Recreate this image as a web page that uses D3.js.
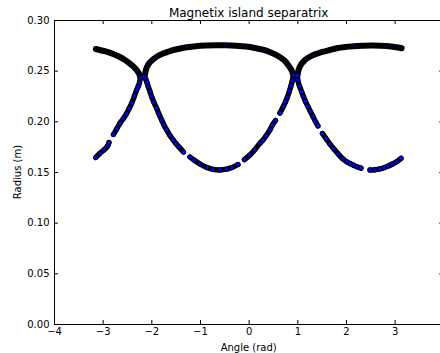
<!DOCTYPE html>
<html>
<head>
<meta charset="utf-8">
<script src="https://cdn.jsdelivr.net/npm/d3@7"></script>
<style>
  html, body { margin: 0; padding: 0; background: #fff; }
  svg { display: block; }
  text { font-family: "DejaVu Sans", sans-serif; fill: #000; }
</style>
</head>
<body>
<svg id="chart" width="440" height="353"></svg>
<script>
// Separatrix traces as [angle (rad), radius (m)] pairs, one array per branch.
// Upper branches: densely filled traces.
const outerLeftUpper = [[-3.14,0.2714],[-2.974,0.2694],[-2.815,0.2671],[-2.676,0.2642],[-2.542,0.2605],
  [-2.439,0.2569],[-2.351,0.2533],[-2.285,0.2497],[-2.244,0.2462],[-2.224,0.2428]];
const islandUpper = [[-2.141,0.2433],[-2.121,0.2487],[-2.090,0.2536],[-2.039,0.2576],[-1.967,0.2610],
  [-1.885,0.2640],[-1.761,0.2669],[-1.617,0.2694],[-1.453,0.2714],[-1.268,0.2731],[-1.083,0.2742],
  [-0.878,0.2748],[-0.672,0.2751],[-0.467,0.2751],[-0.261,0.2747],[-0.055,0.2739],[0.129,0.2724],
  [0.314,0.2704],[0.479,0.2674],[0.623,0.2640],[0.736,0.2600],[0.818,0.2551],[0.880,0.2507],[0.917,0.2457]];
const outerRightUpper = [[1.003,0.2452],[1.023,0.2502],[1.065,0.2551],[1.157,0.2605],[1.239,0.2633],
  [1.328,0.2655],[1.424,0.2671],[1.533,0.2687],[1.671,0.2704],[1.808,0.2721],[1.979,0.2734],
  [2.164,0.2742],[2.355,0.2746],[2.534,0.2748],[2.698,0.2747],[2.836,0.2744],[2.965,0.2736],
  [3.068,0.2729],[3.144,0.2721]];

// Lower branches: sparser traces, split where the orbit leaves gaps.
const outerLeftLowerA = [[-2.224,0.2428],[-2.244,0.2378],[-2.275,0.2339],[-2.302,0.2309],[-2.347,0.2250],
  [-2.404,0.2178],[-2.454,0.2129],[-2.507,0.2079],[-2.573,0.2028],[-2.645,0.1981],[-2.713,0.1924],[-2.778,0.1870]];
const outerLeftLowerB = [[-2.870,0.1791],[-2.898,0.1757],[-2.974,0.1717],[-3.056,0.1685],[-3.142,0.1643]];
const islandLowerRightA = [[0.917,0.2457],[0.896,0.2398],[0.869,0.2349],[0.838,0.2299],[0.797,0.2240],
  [0.756,0.2191],[0.711,0.2144],[0.643,0.2082]];
const islandLowerRightB = [[0.551,0.2008],[0.489,0.1964],[0.438,0.1915],[0.356,0.1855],[0.294,0.1816],
  [0.232,0.1783],[0.129,0.1722],[0.027,0.1668],[-0.086,0.1623]];
const islandBottom = [[-0.220,0.1574],[-0.343,0.1544],[-0.452,0.1528],[-0.590,0.1520],[-0.734,0.1525],
  [-0.857,0.1544],[-1.001,0.1579],[-1.124,0.1618],[-1.206,0.1648]];
const islandLowerLeft = [[-1.340,0.1697],[-1.432,0.1747],[-1.494,0.1781],[-1.550,0.1816],[-1.617,0.1860],
  [-1.685,0.1915],[-1.741,0.1964],[-1.788,0.2013],[-1.843,0.2072],[-1.891,0.2129],[-1.946,0.2186],
  [-1.993,0.2243],[-2.028,0.2294],[-2.063,0.2342],[-2.090,0.2383],[-2.121,0.2423],[-2.141,0.2433]];
const outerRightLowerA = [[1.003,0.2452],[1.009,0.2408],[1.044,0.2349],[1.089,0.2292],[1.126,0.2245],
  [1.167,0.2196],[1.219,0.2146],[1.270,0.2097],[1.321,0.2048],[1.373,0.1998],[1.424,0.1954]];
const outerRightLowerB = [[1.517,0.1880],[1.589,0.1831],[1.671,0.1776],[1.753,0.1727],[1.841,0.1678],
  [1.928,0.1633],[2.014,0.1602],[2.082,0.1584],[2.154,0.1567],[2.226,0.1551],[2.308,0.1538]];
const outerRightLowerC = [[2.493,0.1520],[2.596,0.1522],[2.698,0.1530],[2.781,0.1542],[2.869,0.1559],
  [2.955,0.1579],[3.042,0.1602],[3.130,0.1635]];

const xTicks = [-4, -3, -2, -1, 0, 1, 2, 3];
const yTicks = [0, 0.05, 0.10, 0.15, 0.20, 0.25, 0.30];
const titleText = "Magnetix island separatrix";
const xLabel = "Angle (rad)";
const yLabel = "Radius (m)";

const denseBranches = [outerLeftUpper, islandUpper, outerRightUpper];
const sparseBranches = [outerLeftLowerA, outerLeftLowerB, islandLowerRightA, islandLowerRightB,
  islandBottom, islandLowerLeft, outerRightLowerA, outerRightLowerB, outerRightLowerC];

const svg = d3.select("#chart");
const padL = 54, padR = 443.3, padT = 20, padB = 324;

const x = d3.scaleLinear().domain([-4, 4]).range([padL, padR]);
const y = d3.scaleLinear().domain([0, 0.30]).range([padB, padT]);

const line = d3.line()
  .x(d => x(d[0]))
  .y(d => y(d[1]))
  .curve(d3.curveCatmullRom.alpha(0.5));

const plot = svg.append("g");

// Filled trace bands
plot.selectAll("path.dense-band")
  .data(denseBranches)
  .join("path")
  .attr("class", "dense-band")
  .attr("d", line)
  .attr("fill", "none")
  .attr("stroke", "#000")
  .attr("stroke-width", 6)
  .attr("stroke-linecap", "round")
  .attr("stroke-linejoin", "round");

plot.selectAll("path.sparse-band")
  .data(sparseBranches)
  .join("path")
  .attr("class", "sparse-band")
  .attr("d", line)
  .attr("fill", "none")
  .attr("stroke", "#000")
  .attr("stroke-width", 5.4)
  .attr("stroke-linecap", "round")
  .attr("stroke-linejoin", "round");

// Markers on the sparse branches
plot.selectAll("g.sparse")
  .data(sparseBranches)
  .join("g")
  .attr("class", "sparse")
  .selectAll("circle")
  .data(d => d)
  .join("circle")
  .attr("cx", d => x(d[0]))
  .attr("cy", d => y(d[1]))
  .attr("r", 2.2)
  .attr("fill", "#0000ff")
  .attr("stroke", "#000")
  .attr("stroke-width", 0.9);

// Faint marker centres showing through the dense branches
plot.selectAll("g.dense")
  .data(denseBranches)
  .join("g")
  .attr("class", "dense")
  .selectAll("circle")
  .data(d => d.filter((p, i) => i % 2 === 1))
  .join("circle")
  .attr("cx", d => x(d[0]))
  .attr("cy", d => y(d[1]))
  .attr("r", 0.9)
  .attr("fill", "#0000ff")
  .attr("opacity", 0.75);

// Axes with inward ticks on all sides
const fmtX = d3.format("d");
const fmtY = d3.format(".2f");

const gx = svg.append("g")
  .attr("transform", `translate(0,${padB})`)
  .call(d3.axisBottom(x).tickValues(xTicks).tickFormat(fmtX).tickSizeInner(-4).tickSizeOuter(0).tickPadding(4));
const gxTop = svg.append("g")
  .attr("transform", `translate(0,${padT})`)
  .call(d3.axisTop(x).tickValues(xTicks).tickFormat("").tickSizeInner(-4).tickSizeOuter(0));
const gy = svg.append("g")
  .attr("transform", `translate(${padL},0)`)
  .call(d3.axisLeft(y).tickValues(yTicks).tickFormat(fmtY).tickSizeInner(-4).tickSizeOuter(0).tickPadding(4.5));
const gyRight = svg.append("g")
  .attr("transform", `translate(${padR},0)`)
  .call(d3.axisRight(y).tickValues(yTicks).tickFormat("").tickSizeInner(-4).tickSizeOuter(0));

[gx, gxTop, gy, gyRight].forEach(g => {
  g.select(".domain").remove();
  g.selectAll("line").attr("stroke", "#000").attr("stroke-width", 1);
  g.selectAll("text").attr("font-family", "DejaVu Sans").attr("font-size", 10).attr("fill", "#000");
});

// Frame
svg.append("rect")
  .attr("x", padL + 0.5).attr("y", padT + 0.5)
  .attr("width", padR - padL).attr("height", padB - padT)
  .attr("fill", "none").attr("stroke", "#000").attr("stroke-width", 1);

// Title and axis labels
svg.append("text")
  .attr("x", (padL + padR) / 2).attr("y", 17)
  .attr("text-anchor", "middle").attr("font-size", 12)
  .text(titleText);
svg.append("text")
  .attr("x", (padL + padR) / 2).attr("y", 350.5)
  .attr("text-anchor", "middle").attr("font-size", 10)
  .text(xLabel);
svg.append("text")
  .attr("transform", `translate(21,${(padT + padB) / 2}) rotate(-90)`)
  .attr("text-anchor", "middle").attr("font-size", 10)
  .text(yLabel);
</script>
</body>
</html>
